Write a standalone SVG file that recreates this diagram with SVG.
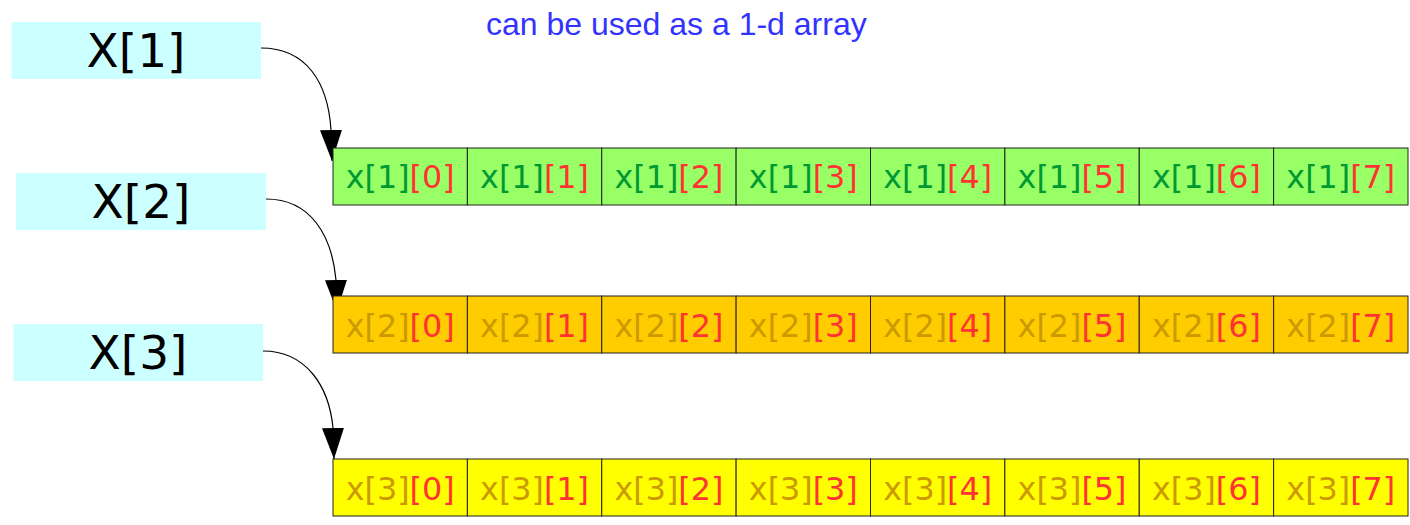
<svg xmlns="http://www.w3.org/2000/svg" width="1410" height="525" viewBox="0 0 1410 525">
<style>
.ptr{fill:#ccffff}
.lbl{font-family:"DejaVu Sans",sans-serif;font-size:47px;fill:#000;text-anchor:middle}
.cell{stroke:#222;stroke-width:1}
.g{fill:#99ff66}
.o{fill:#ffcc00}
.y{fill:#ffff00}
.ct{font-family:"DejaVu Sans",sans-serif;font-size:31.8px;text-anchor:middle}
.tg{fill:#009933}
.td{fill:#cc9900}
.r{fill:#ff3333}
.title{font-family:"Liberation Sans",Arial,sans-serif;font-size:32px;fill:#3333ff}
.conn{fill:none;stroke:#000;stroke-width:1.2;marker-end:url(#ah)}
</style>
<defs>
<marker id="ah" markerUnits="userSpaceOnUse" markerWidth="32" markerHeight="22" refX="31" refY="11" orient="auto" viewBox="0 0 32 22">
<path d="M0,0 L31,11 L0,22 z" fill="#000"/>
</marker>
</defs>
<rect width="1410" height="525" fill="#fff"/>
<text class="title" x="486" y="35">can be used as a 1-d array</text>

<g id="connectors">
<path class="conn" d="M261,48 C306,48 328,82 331,130 L332,161"/>
<path class="conn" d="M266,199 C311,199 332,236 336,280 L337,311"/>
<path class="conn" d="M263,351 C306,351 329,386 333,428 L334,459"/>
</g>

<g id="X1"><rect class="ptr" x="11.5" y="22" width="249.5" height="57"/><text class="lbl" x="136" y="67">X[1]</text></g>
<g id="X2"><rect class="ptr" x="16" y="173" width="250" height="57"/><text class="lbl" x="141" y="218">X[2]</text></g>
<g id="X3"><rect class="ptr" x="13.5" y="324" width="249.5" height="57"/><text class="lbl" x="138" y="369">X[3]</text></g>

<g id="row1">
<rect class="cell g" x="333" y="148" width="134.375" height="57"/>
<rect class="cell g" x="467.375" y="148" width="134.375" height="57"/>
<rect class="cell g" x="601.75" y="148" width="134.375" height="57"/>
<rect class="cell g" x="736.125" y="148" width="134.375" height="57"/>
<rect class="cell g" x="870.5" y="148" width="134.375" height="57"/>
<rect class="cell g" x="1004.875" y="148" width="134.375" height="57"/>
<rect class="cell g" x="1139.25" y="148" width="134.375" height="57"/>
<rect class="cell g" x="1273.625" y="148" width="134.375" height="57"/>
<text class="ct" x="400.19" y="188"><tspan class="tg">x[1]</tspan><tspan class="r">[0]</tspan></text>
<text class="ct" x="534.56" y="188"><tspan class="tg">x[1]</tspan><tspan class="r">[1]</tspan></text>
<text class="ct" x="668.94" y="188"><tspan class="tg">x[1]</tspan><tspan class="r">[2]</tspan></text>
<text class="ct" x="803.31" y="188"><tspan class="tg">x[1]</tspan><tspan class="r">[3]</tspan></text>
<text class="ct" x="937.69" y="188"><tspan class="tg">x[1]</tspan><tspan class="r">[4]</tspan></text>
<text class="ct" x="1072.06" y="188"><tspan class="tg">x[1]</tspan><tspan class="r">[5]</tspan></text>
<text class="ct" x="1206.44" y="188"><tspan class="tg">x[1]</tspan><tspan class="r">[6]</tspan></text>
<text class="ct" x="1340.81" y="188"><tspan class="tg">x[1]</tspan><tspan class="r">[7]</tspan></text>
</g>

<g id="row2">
<rect class="cell o" x="333" y="296" width="134.375" height="57"/>
<rect class="cell o" x="467.375" y="296" width="134.375" height="57"/>
<rect class="cell o" x="601.75" y="296" width="134.375" height="57"/>
<rect class="cell o" x="736.125" y="296" width="134.375" height="57"/>
<rect class="cell o" x="870.5" y="296" width="134.375" height="57"/>
<rect class="cell o" x="1004.875" y="296" width="134.375" height="57"/>
<rect class="cell o" x="1139.25" y="296" width="134.375" height="57"/>
<rect class="cell o" x="1273.625" y="296" width="134.375" height="57"/>
<text class="ct" x="400.19" y="337"><tspan class="td">x[2]</tspan><tspan class="r">[0]</tspan></text>
<text class="ct" x="534.56" y="337"><tspan class="td">x[2]</tspan><tspan class="r">[1]</tspan></text>
<text class="ct" x="668.94" y="337"><tspan class="td">x[2]</tspan><tspan class="r">[2]</tspan></text>
<text class="ct" x="803.31" y="337"><tspan class="td">x[2]</tspan><tspan class="r">[3]</tspan></text>
<text class="ct" x="937.69" y="337"><tspan class="td">x[2]</tspan><tspan class="r">[4]</tspan></text>
<text class="ct" x="1072.06" y="337"><tspan class="td">x[2]</tspan><tspan class="r">[5]</tspan></text>
<text class="ct" x="1206.44" y="337"><tspan class="td">x[2]</tspan><tspan class="r">[6]</tspan></text>
<text class="ct" x="1340.81" y="337"><tspan class="td">x[2]</tspan><tspan class="r">[7]</tspan></text>
</g>

<g id="row3">
<rect class="cell y" x="333" y="459" width="134.375" height="57"/>
<rect class="cell y" x="467.375" y="459" width="134.375" height="57"/>
<rect class="cell y" x="601.75" y="459" width="134.375" height="57"/>
<rect class="cell y" x="736.125" y="459" width="134.375" height="57"/>
<rect class="cell y" x="870.5" y="459" width="134.375" height="57"/>
<rect class="cell y" x="1004.875" y="459" width="134.375" height="57"/>
<rect class="cell y" x="1139.25" y="459" width="134.375" height="57"/>
<rect class="cell y" x="1273.625" y="459" width="134.375" height="57"/>
<text class="ct" x="400.19" y="500"><tspan class="td">x[3]</tspan><tspan class="r">[0]</tspan></text>
<text class="ct" x="534.56" y="500"><tspan class="td">x[3]</tspan><tspan class="r">[1]</tspan></text>
<text class="ct" x="668.94" y="500"><tspan class="td">x[3]</tspan><tspan class="r">[2]</tspan></text>
<text class="ct" x="803.31" y="500"><tspan class="td">x[3]</tspan><tspan class="r">[3]</tspan></text>
<text class="ct" x="937.69" y="500"><tspan class="td">x[3]</tspan><tspan class="r">[4]</tspan></text>
<text class="ct" x="1072.06" y="500"><tspan class="td">x[3]</tspan><tspan class="r">[5]</tspan></text>
<text class="ct" x="1206.44" y="500"><tspan class="td">x[3]</tspan><tspan class="r">[6]</tspan></text>
<text class="ct" x="1340.81" y="500"><tspan class="td">x[3]</tspan><tspan class="r">[7]</tspan></text>
</g>
</svg>
